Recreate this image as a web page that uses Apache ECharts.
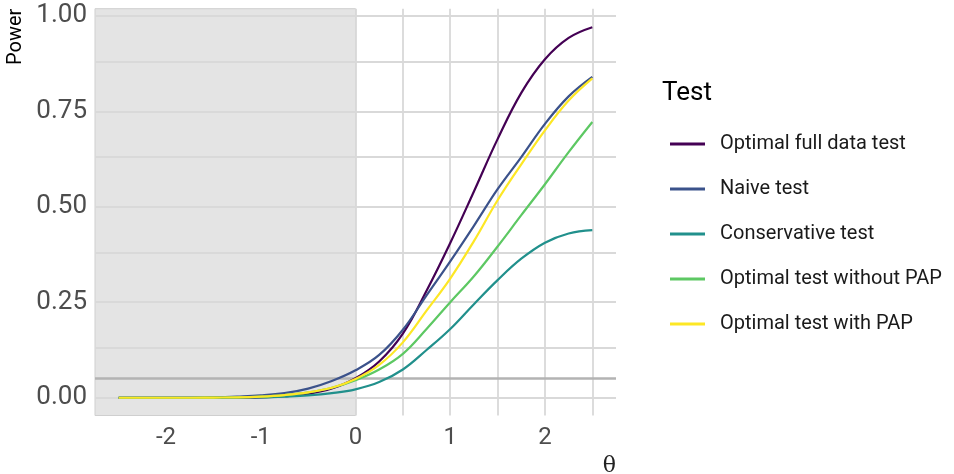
<!DOCTYPE html>
<html>
<head>
<meta charset="utf-8">
<script src="https://cdn.jsdelivr.net/npm/echarts@6/dist/echarts.min.js"></script>
<style>html,body{margin:0;padding:0;background:#fff}#c{width:954px;height:474px}</style>
</head>
<body>
<div id="c"></div>
<script>
const theta = [-2.5,-2.25,-2,-1.75,-1.5,-1.25,-1,-0.75,-0.5,-0.25,0,0.25,0.5,0.75,1,1.25,1.5,1.75,2,2.25,2.5];
const seriesNames = ["Optimal full data test","Naive test","Conservative test","Optimal test without PAP","Optimal test with PAP"];
const fullData     = [0,0,0,0,0,0.0003,0.001,0.004,0.010,0.024,0.051,0.095,0.168,0.280,0.405,0.540,0.677,0.798,0.886,0.942,0.970];
const naive        = [0,0,0,0,0.001,0.003,0.006,0.012,0.024,0.044,0.072,0.112,0.178,0.268,0.357,0.450,0.546,0.630,0.717,0.789,0.840];
const conservative = [0,0,0,0,0,0.0005,0.001,0.003,0.006,0.012,0.022,0.041,0.074,0.125,0.180,0.245,0.308,0.364,0.406,0.430,0.439];
const withoutPAP   = [0,0,0,0,0.0005,0.001,0.003,0.007,0.014,0.026,0.046,0.074,0.115,0.180,0.250,0.318,0.396,0.478,0.559,0.643,0.722];
const withPAP      = [0,0,0,0,0.0005,0.001,0.003,0.007,0.014,0.026,0.049,0.086,0.145,0.228,0.312,0.410,0.517,0.611,0.700,0.778,0.836];
const colors = ["#440154","#3B528B","#21908C","#5DC863","#FDE725"];
const xTicks = [-2,-1,0,1,2];
const yTicks = [0,0.25,0.5,0.75,1];
const xGrid = [0,0.5,1,1.5,2,2.5];
const yGrid = [0,0.125,0.25,0.375,0.5,0.625,0.75,0.875,1];
const alphaLevel = 0.05;
const nullRegion = [-2.75, 0];

const values = [fullData, naive, conservative, withoutPAP, withPAP];
const chart = echarts.init(document.getElementById('c'), null, {renderer:'canvas'});
const lineSeries = seriesNames.map((n,i)=>({
  name:n, type:'line', z:10+i, showSymbol:false, smooth:0.4,
  lineStyle:{color:colors[i], width:2.2}, itemStyle:{color:colors[i]},
  data: theta.map((t,j)=>[t, values[i][j]])
}));
chart.setOption({
  animation:false,
  grid:{left:95, right:338, top:8.7, bottom:58.5},
  xAxis:{type:'value', min:-2.75, max:2.75,
    axisLine:{show:false}, axisTick:{show:false}, splitLine:{show:false},
    axisLabel:{customValues:xTicks, fontFamily:'Roboto', fontSize:24, color:'#4d4d4d', margin:10,
      formatter:v=>String(v)}},
  yAxis:{type:'value', min:-0.0465, max:1.0185,
    axisLine:{show:false}, axisTick:{show:false}, splitLine:{show:false},
    axisLabel:{customValues:yTicks, fontFamily:'Roboto', fontSize:26, color:'#4d4d4d', margin:8,
      formatter:v=>v.toFixed(2)}},
  legend:{orient:'vertical', left:665, top:127, itemWidth:35, itemHeight:3, icon:'rect', itemGap:21,
    data:seriesNames,
    textStyle:{fontFamily:'Roboto', fontSize:20, color:'#1a1a1a', lineHeight:24, padding:[0,0,0,10]}},
  graphic:[
    {type:'text', x:662, y:80, style:{text:'Test', fontFamily:'Roboto', fontSize:26, fill:'#000'}},
    {type:'text', x:26, y:65, rotation:Math.PI/2, style:{text:'Power', fontFamily:'Roboto', fontSize:20, fill:'#000', textAlign:'left', textVerticalAlign:'bottom'}},
    {type:'text', x:616, y:455, style:{text:'θ', fontFamily:'DejaVu Serif', fontSize:22, fill:'#222', textAlign:'right'}}
  ],
  series:[
    {type:'line', z:1, data:[], silent:true,
      markLine:{silent:true, symbol:['none','none'], label:{show:false}, animation:false,
        lineStyle:{color:'#d9d9d9', width:1.8, type:'solid'},
        data:[...xGrid.map(v=>({xAxis:v})), ...yGrid.map(v=>({yAxis:v}))]}},
    {type:'line', z:2, data:[], silent:true,
      markArea:{silent:true, itemStyle:{color:'#e4e4e4', opacity:1, borderColor:'#cfcfcf', borderWidth:1},
        data:[[{xAxis:nullRegion[0]},{xAxis:nullRegion[1]}]]}},
    {type:'line', z:3, data:[], silent:true,
      markLine:{silent:true, symbol:['none','none'], label:{show:false}, animation:false,
        lineStyle:{color:'#b3b3b3', width:2.5, type:'solid'},
        data:[{yAxis:alphaLevel}]}},
    ...lineSeries
  ]
});
</script>
</body>
</html>
